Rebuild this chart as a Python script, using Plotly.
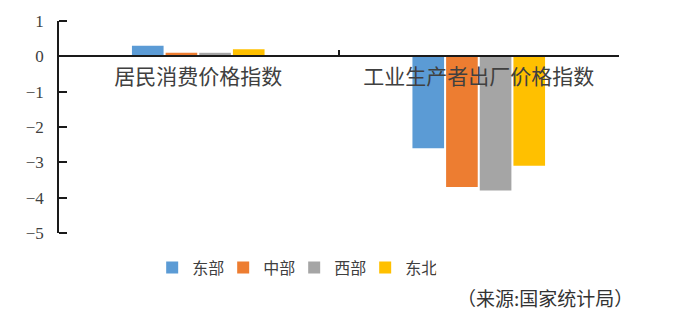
import plotly.graph_objects as go

categories = ["居民消费价格指数", "工业生产者出厂价格指数"]
series_names = ["东部", "中部", "西部", "东北"]
east = [0.3, -2.6]
central = [0.1, -3.7]
west = [0.1, -3.8]
northeast = [0.2, -3.1]
colors = ["#5B9BD5", "#ED7D31", "#A5A5A5", "#FFC000"]
y_ticks = [1, 0, -1, -2, -3, -4, -5]
y_range = [-5, 1]
source_text = "（来源:国家统计局）"

fig = go.Figure()
for name, vals, col in zip(series_names, [east, central, west, northeast], colors):
    fig.add_trace(go.Bar(x=categories, y=vals, name=name, marker_color=col,
                         marker_line_width=0))
# invisible helper trace so the tick-only overlay axis is drawn
fig.add_trace(go.Scatter(x=categories, y=east, yaxis="y2", mode="markers",
                         marker=dict(opacity=0), showlegend=False, hoverinfo="skip"))

cjk = "Noto Sans CJK SC"
fig.update_layout(
    width=695, height=324,
    margin=dict(l=58, r=76, t=18, b=91),
    paper_bgcolor="white", plot_bgcolor="white",
    barmode="group", bargap=0.52, bargroupgap=0.06,
    showlegend=True,
    legend=dict(orientation="h", x=0.421, xanchor="center", y=-0.163, yanchor="middle",
                font=dict(family=cjk, size=16, color="#404040"),
                itemwidth=30, entrywidth=26, traceorder="normal"),
    xaxis=dict(anchor="free", position=5/6, showline=True, linecolor="#1a1a1a", linewidth=1.5,
               ticks="inside", ticklen=6, tickcolor="#1a1a1a", tickwidth=1.5,
               tickson="boundaries", showgrid=False, zeroline=False,
               tickfont=dict(family=cjk, size=21, color="#404040"),
               ticklabelstandoff=2),
    yaxis=dict(range=y_range, tickmode="array", tickvals=y_ticks, anchor="free", position=0,
               showline=True, linecolor="#1a1a1a", linewidth=1.5,
               ticks="", showgrid=False, zeroline=False,
               tickfont=dict(family="Liberation Serif", size=17, color="#404040"),
               ticklabelstandoff=10),
    yaxis2=dict(range=y_range, tickmode="array", tickvals=y_ticks, overlaying="y",
                side="right", anchor="free", position=0, showline=False,
                ticks="outside", ticklen=8, tickcolor="#1a1a1a", tickwidth=1.5,
                showticklabels=False, showgrid=False, zeroline=False),
    annotations=[dict(text=source_text, xref="paper", yref="paper", x=1.0285, y=-0.302,
                      xanchor="right", yanchor="middle", showarrow=False,
                      font=dict(family=cjk, size=19, color="#333333"))],
)
fig.write_html("out.html")
